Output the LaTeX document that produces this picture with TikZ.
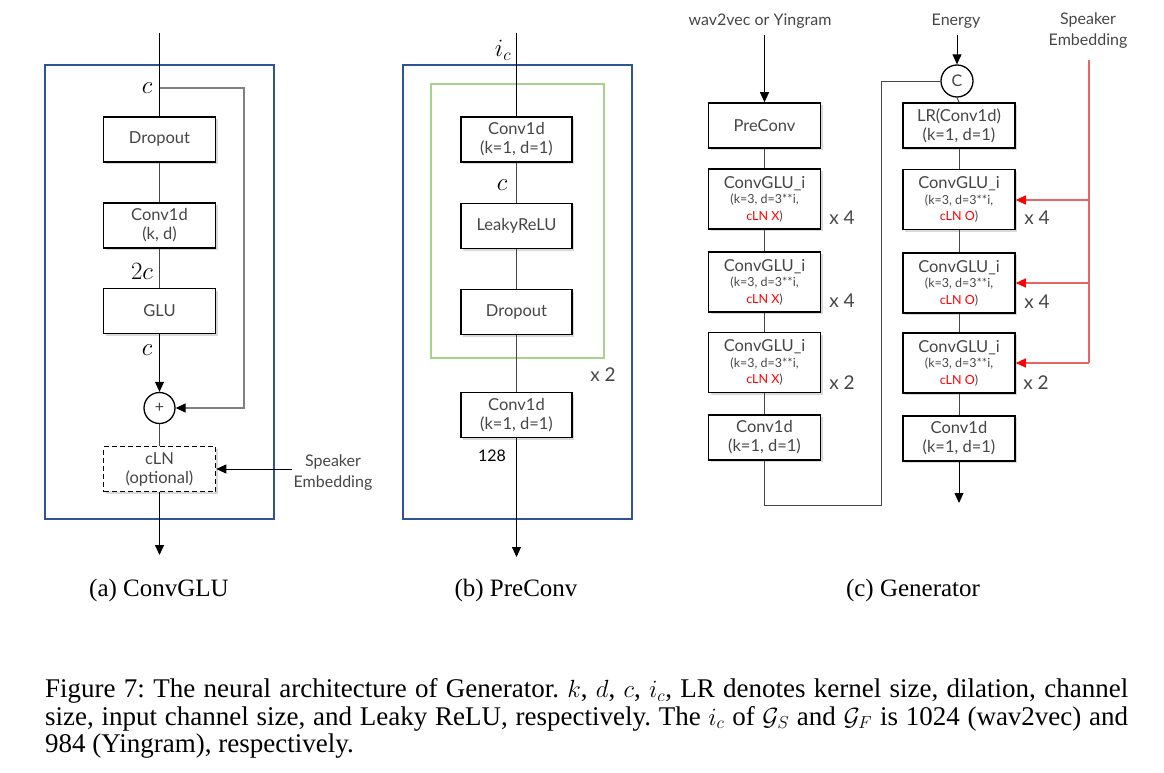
\documentclass[tikz,border=0pt]{standalone}
\usepackage{fontspec}
\setmainfont{Liberation Serif}
\newfontfamily\bxf{Lato}
\usetikzlibrary{arrows.meta,shadows,calc}
\definecolor{txtgray}{RGB}{70,70,70}
\definecolor{frameblue}{RGB}{47,84,150}
\definecolor{framegreen}{RGB}{169,209,142}
\definecolor{skipgray}{RGB}{128,128,128}
\definecolor{redline}{RGB}{230,100,100}
\definecolor{redarrow}{RGB}{255,0,0}
\tikzset{
  blk/.style={draw=black, line width=1.6pt, fill=white, minimum width=112pt, minimum height=45pt,
    inner sep=0pt, align=center, text=txtgray, font=\bxf\fontsize{16.5}{19}\selectfont,
    drop shadow={shadow xshift=2pt, shadow yshift=-2pt, opacity=0.3}},
  tall/.style={blk, minimum height=60pt, font=\bxf\fontsize{12.5}{16.5}\selectfont},
  conn/.style={draw=txtgray, line width=0.9pt},
  arr/.style={draw=black, line width=0.9pt, -{Triangle[length=10pt,width=9pt]}},
  redarr/.style={draw=redline, line width=1.2pt, -{Triangle[length=10pt,width=9pt,color=redarrow]}},
  mathlbl/.style={font=\fontsize{25}{25}\selectfont, inner sep=0pt},
  lbl/.style={font=\bxf\fontsize{16}{21}\selectfont, text=txtgray, align=center, inner sep=2pt},
  rep/.style={font=\bxf\fontsize{19}{19}\selectfont, text=txtgray, inner sep=0pt},
  bigframe/.style={draw=frameblue, line width=1.5pt},
  subcap/.style={font=\fontsize{25}{28}\selectfont, inner sep=0pt},
  circ/.style={draw=black, line width=1.3pt, circle, minimum size=32pt, inner sep=0pt, fill=white,
    font=\bxf\fontsize{16}{16}\selectfont, text=txtgray}
}
\newcommand{\glutext}[1]{{\fontsize{16.5}{18}\selectfont ConvGLU\_i}\\[-1pt](k=3, d=3**i,\\{\color{red}cLN #1}\color{txtgray})}
\begin{document}
\begin{tikzpicture}[x=1pt,y=-1pt]
\useasboundingbox (0,0) rectangle (1164,773);

% ---------------- (a) ConvGLU ----------------
\draw[bigframe] (45,65) rectangle (274,519);
\coordinate (atop) at (159.5,33);
\node[blk] (adrop) at (159.5,139.5) {Dropout};
\node[blk] (aconv) at (159.5,225.5) {Conv1d\\(k, d)};
\node[blk] (aglu) at (159.5,311) {GLU};
\node[circ, minimum size=31pt] (aplus) at (159.5,408) {+};
\node[blk, dash pattern=on 5pt off 3pt] (acln) at (159.5,469) {cLN\\(optional)};
\coordinate (aout) at (159.5,555);
\coordinate (asplit) at (159.5,88);
\coordinate (askip) at (244,88);
\draw[conn, draw=black] (atop) -- (adrop.north);
\draw[conn] (adrop.south) -- (aconv.north);
\draw[conn] (aconv.south) -- (aglu.north);
\draw[arr] (aglu.south) -- (aplus.north);
\draw[conn] (aplus.south) -- (acln.north);
\draw[arr] (acln.south) -- (aout);
\draw[draw=skipgray, line width=1.3pt, -{Triangle[length=10pt,width=9pt,color=black]}] (asplit) -- (askip) |- (aplus.east);
\node[mathlbl] (ac1) at (147,88) {$c$};
\node[mathlbl] (a2c) at (142,271) {$2c$};
\node[mathlbl] (ac2) at (147,350) {$c$};
\node[lbl] (aspk) at (333,473) {Speaker\\Embedding};
\draw[arr] (aspk.west |- acln.east) -- (acln.east);
\node[subcap] (acap) at (159,590) {(a) ConvGLU};

% ---------------- (b) PreConv ----------------
\draw[bigframe] (403,65) rectangle (632,519);
\draw[draw=framegreen, line width=2pt] (431,84) rectangle (604,358);
\coordinate (btop) at (516.5,33);
\coordinate (bout) at (516.5,557);
\node[blk, minimum width=111pt] (bconv1) at (516.5,139.5) {Conv1d\\(k=1, d=1)};
\node[blk, minimum width=111pt] (blrelu) at (516.5,226) {LeakyReLU};
\node[blk, minimum width=111pt] (bdrop) at (516.5,312) {Dropout};
\node[blk, minimum width=111pt] (bconv2) at (516.5,415) {Conv1d\\(k=1, d=1)};
\draw[conn, draw=black] (btop) -- (bconv1.north);
\draw[conn] (bconv1.south) -- (blrelu.north);
\draw[conn] (blrelu.south) -- (bdrop.north);
\draw[conn] (bdrop.south) -- (bconv2.north);
\draw[arr] (bconv2.south) -- (bout);
\node[mathlbl] (bic) at (503,50) {$i_c$};
\node[mathlbl] (bc) at (502,185) {$c$};
\node[rep] (bx2) at (603,375) {x 2};
\node[font=\bxf\fontsize{16}{16}\selectfont, inner sep=0pt] (b128) at (492,456) {128};
\node[subcap] (bcap) at (516,590) {(b) PreConv};

% ---------------- (c) Generator ----------------
\node[lbl] (wav) at (760,21) {wav2vec or Yingram};
\node[blk] (pre) at (764.5,125.5) {PreConv};
\node[tall] (g1) at (764.5,199) {\glutext{X}};
\node[tall] (g2) at (764.5,282) {\glutext{X}};
\node[tall] (g3) at (764.5,362.5) {\glutext{X}};
\node[blk] (gc) at (764.5,437.5) {Conv1d\\(k=1, d=1)};
\draw[arr] (pre.north |- 0,35) -- (pre.north);
\draw[conn] (pre.south) -- (g1.north);
\draw[conn] (g1.south) -- (g2.north);
\draw[conn] (g2.south) -- (g3.north);
\draw[conn] (g3.south) -- (gc.north);
\node[rep] (gx1) at (842,218) {x 4};
\node[rep] (gx2) at (842,301) {x 4};
\node[rep] (gx3) at (842,383) {x 2};

\node[lbl] (energy) at (956,21) {Energy};
\node[circ] (cat) at (957,81) {C};
\node[blk] (lr) at (959,125.5) {LR(Conv1d)\\(k=1, d=1)};
\node[tall] (r1) at (959,199.5) {\glutext{O}};
\node[tall] (r2) at (959,283) {\glutext{O}};
\node[tall] (r3) at (959,363) {\glutext{O}};
\node[blk] (rc) at (959,438.5) {Conv1d\\(k=1, d=1)};
\coordinate (loopb) at (881,505);
\coordinate (rout) at (959,503);
\draw[arr] (cat.north |- 0,35) -- (cat.north);
\draw[conn] (gc.south) |- (loopb) |- (cat.west);
\draw[conn] (cat.south) -- (lr.north);
\draw[conn] (lr.south) -- (r1.north);
\draw[conn] (r1.south) -- (r2.north);
\draw[conn] (r2.south) -- (r3.north);
\draw[conn] (r3.south) -- (rc.north);
\draw[arr] (rc.south) -- (rout);
\node[rep] (rx1) at (1037,218) {x 4};
\node[rep] (rx2) at (1037,302) {x 4};
\node[rep] (rx3) at (1036,383) {x 2};

\node[lbl] (cspk) at (1088,31) {Speaker\\Embedding};
\coordinate (stop) at (1089,60);
\coordinate (s1) at (1089,200);
\coordinate (s2) at (1089,283);
\coordinate (s3) at (1089,363);
\draw[draw=redline, line width=1.2pt] (stop) -- (s3);
\draw[redarr] (s1) -- (r1.east |- s1);
\draw[redarr] (s2) -- (r2.east |- s2);
\draw[redarr] (s3) -- (r3.east |- s3);
\node[subcap] (ccap) at (913,590) {(c) Generator};

% ---------------- caption ----------------
\node[anchor=north west, text width=1083pt, align=justify, inner sep=0pt,
  font=\fontsize{27}{27.4}\selectfont\frenchspacing] (cap) at (45,678.5)
  {Figure 7: The neural architecture of Generator. $k$, $d$, $c$, $i_c$, LR denotes kernel size, dilation, channel\linebreak
   size, input channel size, and Leaky ReLU, respectively. The $i_c$ of $\mathcal{G}_S$ and $\mathcal{G}_F$ is 1024 (wav2vec) and\linebreak
   984 (Yingram), respectively.};
\end{tikzpicture}
\end{document}
